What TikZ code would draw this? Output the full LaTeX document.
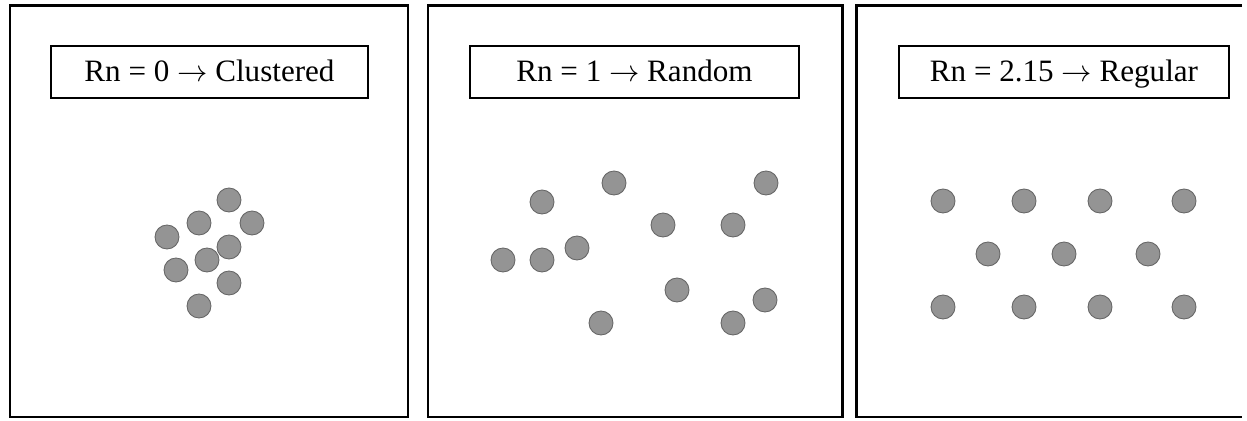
\documentclass[tikz,border=0pt]{standalone}
\usepackage{fontspec}
\setmainfont{Liberation Serif}
\tikzset{
	panel/.style={line width=1.7pt},
	labelbox/.style={draw, line width=1pt, minimum height=1.04cm, inner sep=0pt, text height=0.5cm, text depth=0.1cm, font=\fontsize{17.7}{20}\selectfont},
	dot/.style={circle, fill=black!42, draw=black!60, line width=0.5pt, minimum size=0.48cm, inner sep=0pt}
}
\begin{document}
\begin{tikzpicture}[x=0.02cm, y=-0.02cm]

		\useasboundingbox (0,0) rectangle (1247,421);

		% three panels
		\draw[panel] (10,6) rectangle (408,417);
		\draw[panel] (428,6) rectangle (842,417);
		\draw[panel] (1242,6) -- (856,6) -- (856,417) -- (1242,417);

		% titles
		\node[labelbox, minimum width=6.34cm] (clustered) at (209.5,72) {Rn = 0 $\rightarrow$ Clustered};
		\node[labelbox, minimum width=6.58cm] (random) at (634.5,72) {Rn = 1 $\rightarrow$ Random};
		\node[labelbox, minimum width=6.6cm] (regular) at (1064,72) {Rn = 2.15 $\rightarrow$ Regular};

		% clustered points
		\foreach \x/\y [count=\i] in {229/200, 199/223, 252/223, 167/237, 229/247, 207/260, 176/270, 229/283, 199/306}
			\node[dot] (c\i) at (\x,\y) {};

		% random points
		\foreach \x/\y [count=\i] in {614/183, 766/183, 542/202, 663/225, 733/225, 577/248, 503/260, 542/260, 677/290, 765/300, 601/323, 733/323}
			\node[dot] (r\i) at (\x,\y) {};

		% regular points
		\foreach \x/\y [count=\i] in {943/201, 1024/201, 1100/201, 1184/201, 988/254, 1064/254, 1148/254, 943/307, 1024/307, 1100/307, 1184/307}
			\node[dot] (g\i) at (\x,\y) {};

	\end{tikzpicture}
\end{document}
